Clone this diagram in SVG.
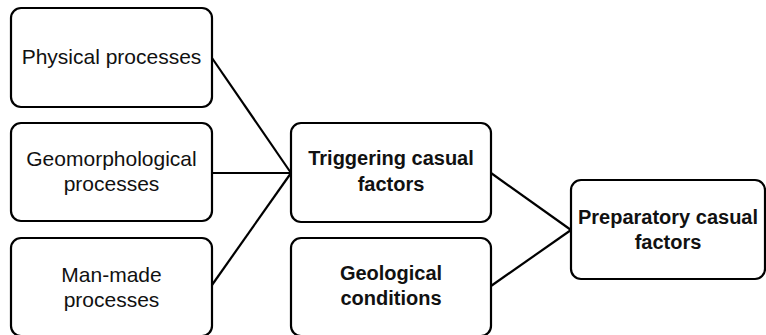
<svg xmlns="http://www.w3.org/2000/svg" width="766" height="335" viewBox="0 0 766 335">
<style>
.box{fill:#fff;stroke:#000;stroke-width:2.2}
.t{font-family:"Liberation Sans",Arial,sans-serif;font-size:21px;fill:#111;text-anchor:middle}
.b{font-weight:bold;font-size:20px}
.c{stroke:#000;stroke-width:2.2;fill:none}
</style>
<rect width="766" height="335" fill="#fff"/>
<g id="connectors">
<line class="c" x1="212" y1="58" x2="291" y2="173"/>
<line class="c" x1="212" y1="173" x2="291" y2="173"/>
<line class="c" x1="212" y1="285" x2="291" y2="173"/>
<line class="c" x1="491" y1="173" x2="571" y2="230"/>
<line class="c" x1="491" y1="286" x2="571" y2="230"/>
</g>
<g id="physical">
<rect class="box" x="11" y="8" width="201" height="99" rx="10"/>
<text class="t" x="111.5" y="64">Physical processes</text>
</g>
<g id="geomorphological">
<rect class="box" x="11" y="123" width="201" height="98" rx="10"/>
<text class="t" x="111.5" y="166">Geomorphological</text>
<text class="t" x="111.5" y="191">processes</text>
</g>
<g id="manmade">
<rect class="box" x="11" y="238" width="201" height="98" rx="10"/>
<text class="t" x="111.5" y="282">Man-made</text>
<text class="t" x="111.5" y="307">processes</text>
</g>
<g id="triggering">
<rect class="box" x="291" y="123" width="200" height="99" rx="10"/>
<text class="t b" x="391" y="165">Triggering casual</text>
<text class="t b" x="391" y="191">factors</text>
</g>
<g id="geological">
<rect class="box" x="291" y="238" width="200" height="98" rx="10"/>
<text class="t b" x="391" y="280">Geological</text>
<text class="t b" x="391" y="305">conditions</text>
</g>
<g id="preparatory">
<rect class="box" x="571" y="180" width="194" height="99" rx="10"/>
<text class="t b" x="668" y="224">Preparatory casual</text>
<text class="t b" x="668" y="249">factors</text>
</g>
</svg>
